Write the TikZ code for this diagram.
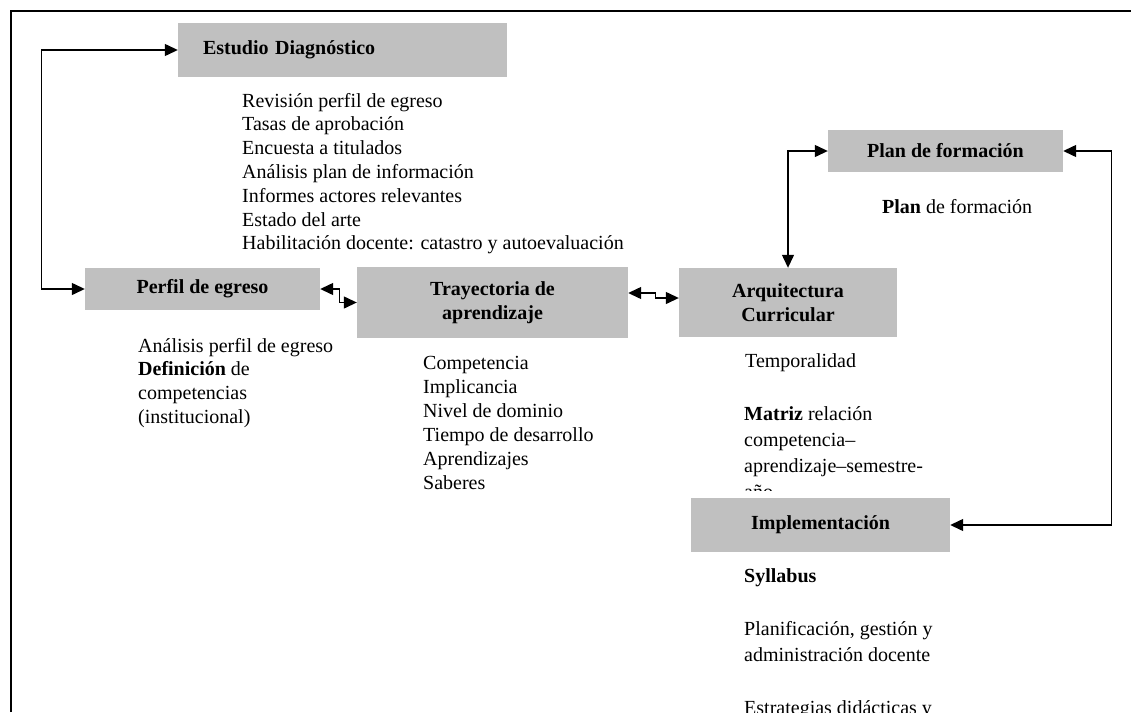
\documentclass[tikz,border=0pt]{standalone}
\usepackage{fontspec}
\setmainfont{Liberation Serif}
\usetikzlibrary{arrows.meta,calc}
\definecolor{cajagris}{HTML}{C0C0C0}
\tikzset{
  caja/.style={fill=cajagris,inner sep=0pt,align=center,font=\fontsize{20}{24}\selectfont\bfseries},
  lista/.style={anchor=base west,inner sep=0pt,align=left,font=\fontsize{20}{23.8}\selectfont},
  enl/.style={line width=1.3pt,{Triangle[length=13pt,width=12pt]}-{Triangle[length=13pt,width=12pt]}},
  marco/.style={line width=2pt}
}

\begin{document}
\begin{tikzpicture}[x=1pt,y=-1pt]
\useasboundingbox (0,0) rectangle (1131,712);
\draw[marco] (11,712) -- (11,11) -- (1131,11);

\node[caja,minimum width=329pt,minimum height=54pt,text width=279pt,align=left] (estudio) at (342.5,50) {Estudio Diagnóstico};
\node[caja,minimum width=235pt,minimum height=42pt] (perfil) at (202.5,289) {Perfil de egreso};
\node[caja,minimum width=271pt,minimum height=71pt] (tray) at (492.5,302.5) {Trayectoria de\\aprendizaje};
\node[caja,minimum width=218pt,minimum height=69pt] (arq) at (788,302.5) {Arquitectura\\Curricular};
\node[caja,minimum width=235pt,minimum height=42pt] (plan) at (945.5,151) {Plan de formación};
\node[caja,minimum width=259pt,minimum height=54pt] (impl) at (820.5,525) {Implementación};

\node[lista] (diagLista) at (242,249.8) {Revisión perfil de egreso\\Tasas de aprobación\\Encuesta a titulados\\Análisis plan de información\\Informes actores relevantes\\Estado del arte\\Habilitación docente: catastro y autoevaluación};
\node[lista] (perfilLista) at (138,423.4) {Análisis perfil de egreso\\\textbf{Definición} de\\competencias\\(institucional)};
\begin{scope}
\clip (0,0) rectangle (1131,489);
\node[lista,font=\fontsize{20}{24}\selectfont] (trayLista) at (423,489) {Competencia\\Implicancia\\Nivel de dominio\\Tiempo de desarrollo\\Aprendizajes\\Saberes};
\end{scope}
\node[lista] (tempLista) at (745,367) {Temporalidad};
\begin{scope}
\clip (0,0) rectangle (1131,490);
\node[lista,font=\fontsize{20}{26}\selectfont] (matrizLista) at (744,498) {\textbf{Matriz} relación\\competencia–\\aprendizaje–semestre-\\año};
\end{scope}
\node[lista] (planLista) at (882,213) {\textbf{Plan} de formación};
\begin{scope}
\clip (0,0) rectangle (1131,712);
\node[lista,font=\fontsize{20}{26.5}\selectfont] (implLista) at (744,714.5) {\textbf{Syllabus}\\[26.5pt]Planificación, gestión y\\administración docente\\[26.5pt]Estrategias didácticas y};
\end{scope}

\draw[enl] (estudio.west) -- ++(-136,0) |- (perfil.west);
\draw[enl] (perfil.east) -- ++(19,0) |- (tray.west);
\draw[enl] ($(tray.east)+(0,-9.5)$) -- ++(27,0) |- ($(arq.west)+(0,-4.5)$);
\draw[enl] (plan.west) -| (arq.north);
\draw[enl] (plan.east) -- ++(48,0) |- (impl.east);
\end{tikzpicture}
\end{document}
